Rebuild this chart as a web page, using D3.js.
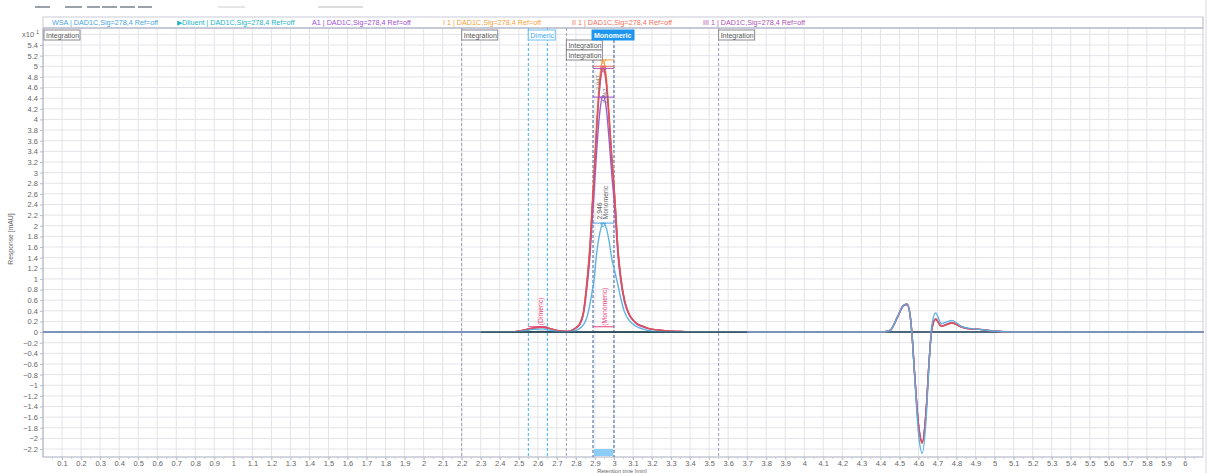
<!DOCTYPE html>
<html><head><meta charset="utf-8">
<script src="https://cdn.jsdelivr.net/npm/d3@7"></script>
<style>
body{margin:0;background:#fff;}
text{font-family:"Liberation Sans",Arial,sans-serif;}
</style></head>
<body><svg id="c" width="1207" height="473"></svg>
<script>
// ---------- data ----------
const seriesNames = ["Diluent","A1","I 1","III 1","II 1","WSA"];
const legendLabels = ["WSA | DAD1C,Sig=278,4 Ref=off","\u25B6Diluent | DAD1C,Sig=278,4 Ref=off","A1 | DAD1C,Sig=278,4 Ref=off","I 1 | DAD1C,Sig=278,4 Ref=off","II 1 | DAD1C,Sig=278,4 Ref=off","III 1 | DAD1C,Sig=278,4 Ref=off"];
const legendColors = ["#4aa3e0","#22b4c4","#a050d0","#f5a040","#f07060","#b050b0"];

const times = [0,2.3,2.45,2.52,2.58,2.62,2.66,2.7,2.75,2.77,2.8,2.82,2.84,2.86,2.875,2.885,2.895,2.91,2.925,2.943,2.96,2.975,2.99,3.0,3.01,3.02,3.035,3.055,3.08,3.1,3.12,3.15,3.18,3.23,3.28,3.35,3.42,3.6,4.4,4.45,4.49,4.52,4.54,4.555,4.565,4.58,4.6,4.62,4.64,4.655,4.67,4.69,4.72,4.775,4.83,4.87,4.92,4.99,5.1,5.5,6.1];

const wsaValues = [0,0,0,0.02,0.05,0.06,0.04,0.01,0,0.01,0.03,0.07,0.14,0.3,0.55,0.75,0.97,1.5,1.85,2.05,1.95,1.7,1.35,1.2,1.05,0.9,0.65,0.38,0.22,0.15,0.1,0.06,0.03,0.01,0,0,0,0,0,0.03,0.29,0.5,0.53,0.35,0,-0.85,-1.9,-2.28,-1.65,-0.65,0.12,0.36,0.16,0.22,0.1,0.07,0.05,0.02,0,0,0];
const a1Values = [0,0,0,0.03,0.08,0.09,0.07,0.03,0.01,0.02,0.07,0.14,0.34,0.9,1.47,2.05,2.58,3.45,4.12,4.45,4.2,3.6,2.9,2.5,2.0,1.48,0.98,0.57,0.32,0.22,0.15,0.1,0.065,0.035,0.02,0.01,0,0,0,0.03,0.28,0.49,0.52,0.34,0,-0.8,-1.72,-2.06,-1.48,-0.6,0.05,0.25,0.12,0.18,0.09,0.06,0.05,0.02,0,0,0];
const i1Values = [0,0,0,0.03,0.08,0.09,0.07,0.03,0.01,0.02,0.08,0.16,0.4,1.05,1.72,2.38,3.0,4.0,4.78,5.1,4.8,4.08,3.25,2.8,2.24,1.63,1.07,0.61,0.34,0.23,0.16,0.11,0.07,0.04,0.02,0.01,0,0,0,0.03,0.29,0.5,0.53,0.35,0,-0.8,-1.75,-2.09,-1.5,-0.6,0.05,0.24,0.11,0.17,0.09,0.06,0.05,0.02,0,0,0];
const ii1Values = [0,0,0,0.03,0.08,0.09,0.07,0.03,0.01,0.02,0.08,0.15,0.38,1.0,1.65,2.3,2.9,3.9,4.65,5.0,4.7,4.0,3.2,2.75,2.2,1.6,1.05,0.6,0.33,0.23,0.16,0.11,0.07,0.04,0.02,0.01,0,0,0,0.03,0.29,0.5,0.53,0.35,0,-0.8,-1.75,-2.09,-1.5,-0.6,0.05,0.24,0.11,0.17,0.09,0.06,0.05,0.02,0,0,0];
const iii1Values = [0,0,0,0.03,0.08,0.1,0.07,0.03,0.01,0.02,0.08,0.15,0.37,0.98,1.62,2.26,2.86,3.85,4.6,4.95,4.66,3.96,3.17,2.72,2.18,1.58,1.04,0.6,0.33,0.23,0.16,0.11,0.07,0.04,0.02,0.01,0,0,0,0.03,0.28,0.49,0.52,0.34,0,-0.79,-1.73,-2.07,-1.49,-0.6,0.05,0.24,0.11,0.17,0.09,0.06,0.05,0.02,0,0,0];
const diluentTimes = [0,2.5,2.62,2.75,6.1];
const diluentValues = [0,0,0.01,0,0];

const xTickValues = [0.1,0.2,0.3,0.4,0.5,0.6,0.7,0.8,0.9,1,1.1,1.2,1.3,1.4,1.5,1.6,1.7,1.8,1.9,2,2.1,2.2,2.3,2.4,2.5,2.6,2.7,2.8,2.9,3,3.1,3.2,3.3,3.4,3.5,3.6,3.7,3.8,3.9,4,4.1,4.2,4.3,4.4,4.5,4.6,4.7,4.8,4.9,5,5.1,5.2,5.3,5.4,5.5,5.6,5.7,5.8,5.9,6];
const yTickValues = [-2.2,-2,-1.8,-1.6,-1.4,-1.2,-1,-0.8,-0.6,-0.4,-0.2,0,0.2,0.4,0.6,0.8,1,1.2,1.4,1.6,1.8,2,2.2,2.4,2.6,2.8,3,3.2,3.4,3.6,3.8,4,4.2,4.4,4.6,4.8,5,5.2,5.4];

// integration / peak annotations (times in min)
const integrationEvents = [0.0, 2.2, 2.75, 3.55];
const dimericWindow = [2.55, 2.65];
const monomericWindow = [2.89, 3.0];
const peakMarkValues = [5.12, 5.0, 4.96, 4.42, 2.05]; // apex markers
const peakMarkColors = ["#f5a040","#f07060","#b050b0","#a050d0","#4aa3e0"];

// ---------- layout ----------
const L=43, R=1203, T=28, B=457;
const svg = d3.select("#c");
const x = d3.scaleLinear().domain([0,6.095]).range([L,R]);
const y = d3.scaleLinear().domain([-2.35,5.72]).range([B,T]);

// toolbar remnants
const tb = [[35,50],[65,82],[87,100],[102,117],[120,135],[138,152]];
svg.selectAll(".tb").data(tb).join("line").attr("x1",d=>d[0]).attr("x2",d=>d[1]).attr("y1",7).attr("y2",7).attr("stroke","#5a6070").attr("stroke-width",1.2);
svg.append("line").attr("x1",218).attr("x2",245).attr("y1",7).attr("y2",7).attr("stroke","#ccc");
svg.append("line").attr("x1",318).attr("x2",363).attr("y1",7).attr("y2",7).attr("stroke","#bbb");

// gridlines
const grid = svg.append("g");
const vGrid = d3.range(1,61).map(i=>i/10);
grid.selectAll(".vg").data(vGrid).join("line")
  .attr("x1",d=>x(d)).attr("x2",d=>x(d)).attr("y1",T).attr("y2",B)
  .attr("stroke","#e4e4e8").attr("stroke-width",1);
grid.selectAll(".hg").data(yTickValues.concat([5.6])).join("line")
  .attr("x1",L).attr("x2",R).attr("y1",d=>y(d)).attr("y2",d=>y(d))
  .attr("stroke","#e4e4e8").attr("stroke-width",1);

// legend box
svg.append("rect").attr("x",L).attr("y",17).attr("width",R-L).attr("height",T-17)
  .attr("fill","#fff").attr("stroke","#c9ccd8");
svg.append("line").attr("x1",L).attr("x2",R).attr("y1",T).attr("y2",T).attr("stroke","#a8acc0").attr("stroke-width",1.2);
const legX = [52,177,312,443,572,703];
svg.selectAll(".leg").data(legendLabels).join("text")
  .attr("x",(d,i)=>legX[i]).attr("y",25).attr("font-size",7.2)
  .attr("fill",(d,i)=>legendColors[i]).text(d=>d);

// axes
svg.append("line").attr("x1",L).attr("x2",L).attr("y1",T).attr("y2",B).attr("stroke","#a8acc0").attr("stroke-width",1.2);
svg.append("line").attr("x1",L).attr("x2",R).attr("y1",B).attr("y2",B).attr("stroke","#a8acc0").attr("stroke-width",1.2);
svg.append("line").attr("x1",R).attr("x2",R).attr("y1",17).attr("y2",B).attr("stroke","#c9ccd8");
svg.append("line").attr("x1",1206).attr("x2",1206).attr("y1",0).attr("y2",473).attr("stroke","#d8d8e0");

const xa = d3.axisBottom(x).tickValues(xTickValues).tickSize(3).tickFormat(d=>d3.format("")(+d.toFixed(1)));
const gx = svg.append("g").attr("transform",`translate(0,${B})`).call(xa);
gx.select(".domain").remove();
gx.selectAll("line").attr("stroke","#b8bcc8");
gx.selectAll("text").attr("font-size",7.5).attr("fill","#666").attr("y",4).attr("dy","0.71em");
// minor x ticks
svg.selectAll(".mx").data(d3.range(0,121).map(i=>i/20+0.05).filter(v=>v<6.09)).join("line")
  .attr("x1",d=>x(d)).attr("x2",d=>x(d)).attr("y1",B).attr("y2",B+2).attr("stroke","#c8ccd6");

const ya = d3.axisLeft(y).tickValues(yTickValues).tickSize(3).tickFormat(d=>d3.format("")(+d.toFixed(1)));
const gy = svg.append("g").attr("transform",`translate(${L},0)`).call(ya);
gy.select(".domain").remove();
gy.selectAll("line").attr("stroke","#b8bcc8");
gy.selectAll("text").attr("font-size",7.5).attr("fill","#666").attr("x",-5);
svg.append("text").attr("x",22).attr("y",y(5.6)+3).attr("font-size",7.5).attr("fill","#666").text("x10");
svg.append("text").attr("x",36).attr("y",y(5.6)-0.5).attr("font-size",5.5).attr("fill","#666").text("1");

svg.append("text").attr("transform",`translate(13,${y(1.75)}) rotate(-90)`).attr("text-anchor","middle")
  .attr("font-size",6.8).attr("fill","#666").text("Response [mAU]");
svg.append("text").attr("x",622).attr("y",472.5).attr("text-anchor","middle")
  .attr("font-size",5.6).attr("fill","#666").text("Retention time [min]");

// integration event lines
const ev = svg.append("g");
ev.selectAll(".ie").data(integrationEvents.slice(1)).join("line")
  .attr("x1",d=>x(d)).attr("x2",d=>x(d)).attr("y1",T).attr("y2",B)
  .attr("stroke","#9aa0b4").attr("stroke-width",1).attr("stroke-dasharray","3,2");
ev.selectAll(".dw").data(dimericWindow).join("line")
  .attr("x1",d=>x(d)).attr("x2",d=>x(d)).attr("y1",T).attr("y2",B)
  .attr("stroke","#40b0f0").attr("stroke-width",1).attr("stroke-dasharray","3,2");
ev.selectAll(".mw").data(monomericWindow).join("line")
  .attr("x1",d=>x(d)).attr("x2",d=>x(d)).attr("y1",T+12).attr("y2",B)
  .attr("stroke","#5a78a8").attr("stroke-width",1.2).attr("stroke-dasharray","3,2");
svg.append("rect").attr("x",x(monomericWindow[0])+1).attr("y",449).attr("width",x(monomericWindow[1])-x(monomericWindow[0])-2).attr("height",7)
  .attr("fill","#8ccdf8");

// curves
const seriesData = {
  "Diluent": diluentTimes.map((t,i)=>[t,diluentValues[i]]),
  "A1": times.map((t,i)=>[t,a1Values[i]]),
  "I 1": times.map((t,i)=>[t,i1Values[i]]),
  "III 1": times.map((t,i)=>[t,iii1Values[i]]),
  "II 1": times.map((t,i)=>[t,ii1Values[i]]),
  "WSA": times.map((t,i)=>[t,wsaValues[i]])
};
const seriesColors = {"Diluent":"#2a5560","A1":"#8e5cc8","I 1":"#f09a40","III 1":"#b8488e","II 1":"#e0505e","WSA":"#5aaee0"};
const line = d3.line().x(d=>x(d[0])).y(d=>y(d[1])).curve(d3.curveMonotoneX);
svg.append("line").attr("x1",L).attr("x2",R).attr("y1",y(0)).attr("y2",y(0)).attr("stroke","#8a7aa8").attr("stroke-width",1.4);
svg.selectAll(".ser").data(seriesNames).join("path")
  .attr("d",n=>line(seriesData[n])).attr("fill","none")
  .attr("stroke",n=>seriesColors[n]).attr("stroke-width",1.4).attr("opacity",0.95);
svg.append("line").attr("x1",x(2.3)).attr("x2",x(3.7)).attr("y1",y(0)).attr("y2",y(0)).attr("stroke","#2a4a50").attr("stroke-width",1.3);

// apex markers
svg.selectAll(".pm").data(peakMarkValues).join("line")
  .attr("x1",x(monomericWindow[0])).attr("x2",x(monomericWindow[1]))
  .attr("y1",d=>y(d)).attr("y2",d=>y(d)).attr("stroke",(d,i)=>peakMarkColors[i]).attr("stroke-width",1);
svg.selectAll(".pt").data(peakMarkValues).join("path")
  .attr("d",d=>`M${x(2.943)-3},${y(d)} L${x(2.943)+3},${y(d)} L${x(2.943)},${y(d)+4}Z`)
  .attr("fill","none").attr("stroke",(d,i)=>peakMarkColors[i]).attr("stroke-width",0.8);
// baseline markers
svg.append("line").attr("x1",x(monomericWindow[0])).attr("x2",x(monomericWindow[1])).attr("y1",y(0.1)).attr("y2",y(0.1)).attr("stroke","#e8407a").attr("stroke-width",1);
svg.append("line").attr("x1",x(dimericWindow[0])).attr("x2",x(dimericWindow[1])).attr("y1",y(0.1)).attr("y2",y(0.1)).attr("stroke","#e8407a").attr("stroke-width",1);
svg.append("text").attr("transform",`translate(${x(2.962)},${y(0.12)}) rotate(-90)`).attr("font-size",6.8).attr("fill","#e8407a").text("(Monomeric)");
svg.append("text").attr("transform",`translate(${x(2.625)},${y(0.13)}) rotate(-90)`).attr("font-size",6.8).attr("fill","#e8407a").text("(Dimeric)");
svg.append("text").attr("transform",`translate(${x(2.937)},${y(2.12)}) rotate(-90)`).attr("font-size",6.8).attr("fill","#666").text("2.946");
svg.append("text").attr("transform",`translate(${x(2.97)},${y(2.12)}) rotate(-90)`).attr("font-size",6.8).attr("fill","#666").text("Monomeric");
svg.append("text").attr("transform",`translate(${x(2.925)},${y(4.55)}) rotate(-90)`).attr("font-size",6).attr("fill","#777").text("2.947");
svg.append("text").attr("transform",`translate(${x(2.965)},${y(4.3)}) rotate(-90)`).attr("font-size",6).attr("fill","#777").text("2.947");

// label boxes
function box(x0,y0,w,txt,opt){
  const g=svg.append("g");
  g.append("rect").attr("x",x0).attr("y",y0).attr("width",w).attr("height",10)
   .attr("fill",opt.fill||"#fff").attr("stroke",opt.stroke||"#8a8a92").attr("stroke-width",1);
  g.append("text").attr("x",x0+2).attr("y",y0+7.8).attr("font-size",7).attr("fill",opt.color||"#555")
   .attr("font-weight",opt.bold?"bold":"normal").text(txt);
}
box(x(integrationEvents[0])+1,30,36,"Integration",{});
box(x(integrationEvents[1]),30,36,"Integration",{});
box(x(integrationEvents[3]),30,36,"Integration",{});
box(x(integrationEvents[2]),40,36,"Integration",{});
box(x(integrationEvents[2]),50,36,"Integration",{});
box(x(dimericWindow[0]),30,27,"Dimeric",{stroke:"#6cc0f4",color:"#3aa8ee"});
box(x(monomericWindow[0])-1,30,42,"Monomeric",{fill:"#1e96f0",stroke:"#1e96f0",color:"#fff",bold:true});
</script></body></html>
